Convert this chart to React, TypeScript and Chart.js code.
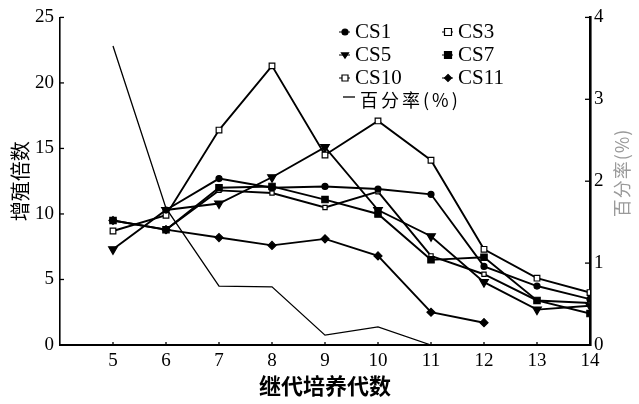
import React, { useEffect, useRef } from 'react';
import { Chart, registerables } from 'chart.js';

Chart.register(...registerables);

// ---- data ----
const generations = [5, 6, 7, 8, 9, 10, 11, 12, 13, 14];
const cs1 = [null, 10.3, 12.7, 12.0, 12.1, 11.9, 11.5, 6.0, 4.5, 3.5];
const cs3 = [8.7, 9.9, 16.4, 21.3, 14.5, 17.1, 14.1, 7.3, 5.1, 4.0];
const cs5 = [7.3, 10.3, 10.8, 12.8, 15.1, 10.3, 8.3, 4.8, 2.7, 3.0];
const cs7 = [9.5, 8.8, 12.0, 12.1, 11.1, 10.0, 6.5, 6.7, 3.4, 2.4];
const cs10 = [null, 8.8, 11.8, 11.6, 10.5, 11.7, 6.8, 5.4, 3.4, 3.2];
const cs11 = [9.5, 8.8, 8.2, 7.6, 8.1, 6.8, 2.5, 1.7, null, null];
const percent = [3.65, 1.67, 0.72, 0.71, 0.12, 0.22, 0, null, null, null];
const leftTicks = [0, 5, 10, 15, 20, 25];
const rightTicks = [0, 1, 2, 3, 4];
const xTitle = '继代培养代数';
const yTitle = '增殖倍数';
const y1Title = '百分率(%)';

const pts = (vals: (number | null)[]) =>
  generations.map((g, i) => ({ x: g, y: vals[i] })).filter((p) => p.y !== null);

type Mk = { label: string; style: string; r: number; fill: string; rot?: number };
const markers: Mk[] = [
  { label: 'CS1', style: 'circle', r: 3, fill: '#000' },
  { label: 'CS3', style: 'rect', r: 4, fill: '#fff' },
  { label: 'CS5', style: 'triangle', r: 5, fill: '#000', rot: 180 },
  { label: 'CS7', style: 'rect', r: 4.5, fill: '#000' },
  { label: 'CS10', style: 'rect', r: 3, fill: '#fff' },
  { label: 'CS11', style: 'rectRot', r: 4, fill: '#000' },
];
const seriesVals = [cs1, cs3, cs5, cs7, cs10, cs11];

function drawMark(ctx: CanvasRenderingContext2D, m: Mk, cx: number, cy: number) {
  ctx.save();
  ctx.fillStyle = m.fill;
  ctx.strokeStyle = '#000';
  ctx.lineWidth = 1.2;
  ctx.beginPath();
  const r = m.r;
  if (m.style === 'circle') {
    ctx.arc(cx, cy, r, 0, Math.PI * 2);
  } else if (m.style === 'rect') {
    ctx.rect(cx - r, cy - r, 2 * r, 2 * r);
  } else if (m.style === 'triangle') {
    ctx.moveTo(cx - r, cy - r * 0.6);
    ctx.lineTo(cx + r, cy - r * 0.6);
    ctx.lineTo(cx, cy + r * 0.9);
    ctx.closePath();
  } else if (m.style === 'rectRot') {
    ctx.moveTo(cx, cy - r);
    ctx.lineTo(cx + r, cy);
    ctx.lineTo(cx, cy + r);
    ctx.lineTo(cx - r, cy);
    ctx.closePath();
  }
  ctx.fill();
  ctx.stroke();
  ctx.restore();
}

const overlay = {
  id: 'overlay',
  afterDraw(chart: any) {
    const ctx: CanvasRenderingContext2D = chart.ctx;
    const { x, y, y1 } = chart.scales;
    const area = chart.chartArea;
    ctx.save();
    ctx.strokeStyle = '#000';
    ctx.lineWidth = 1.3;
    const seg = (a: number, b: number, c: number, d: number) => {
      ctx.beginPath();
      ctx.moveTo(a, b);
      ctx.lineTo(c, d);
      ctx.stroke();
    };
    // inward ticks
    leftTicks.forEach((v) => {
      const py = y.getPixelForValue(v);
      seg(area.left, py, area.left + 4, py);
    });
    rightTicks.forEach((v) => {
      const py = y1.getPixelForValue(v);
      seg(area.right - 5, py, area.right, py);
    });
    generations.forEach((g) => {
      const px = x.getPixelForValue(g);
      seg(px, area.bottom, px, area.bottom - 3);
    });

    // legend (2 columns)
    const colMark = [345, 448];
    const colText = [355, 458];
    const rowY = [31, 54, 77];
    ctx.font = '21px "Liberation Serif"';
    ctx.fillStyle = '#000';
    ctx.textBaseline = 'middle';
    ctx.textAlign = 'left';
    markers.forEach((m, i) => {
      const col = i % 2;
      const row = Math.floor(i / 2);
      const cx = colMark[col];
      const cy = rowY[row] + 1;
      ctx.lineWidth = 1;
      seg(cx - 6, cy, cx + 5, cy);
      drawMark(ctx, { ...m, r: Math.min(m.r, 3.5) }, cx, cy);
      ctx.fillStyle = '#000';
      ctx.fillText(m.label, colText[col], rowY[row] + 1);
    });
    // percent legend entry
    ctx.lineWidth = 1.3;
    seg(343, 97, 355, 97);
    ctx.font = '18px "Noto Sans CJK SC"';
    (ctx as any).letterSpacing = '3px';
    ctx.fillText(y1Title, 360, 100);

    // right axis title, rotated (reads bottom to top)
    ctx.save();
    ctx.translate(622, 173);
    ctx.rotate(-Math.PI / 2);
    ctx.textAlign = 'center';
    ctx.fillStyle = '#9a9a9a';
    (ctx as any).letterSpacing = '1px';
    ctx.font = '18px "Noto Sans CJK SC"';
    ctx.fillText(y1Title, 0, 0);
    ctx.restore();
    ctx.restore();
  },
};

export default function App() {
  const ref = useRef<HTMLCanvasElement | null>(null);
  useEffect(() => {
    if (!ref.current) return;
    Chart.defaults.font.family = '"Liberation Serif", serif';
    Chart.defaults.color = '#000';
    const datasets: any[] = markers.map((m, i) => ({
      label: m.label,
      data: pts(seriesVals[i]),
      borderColor: '#000',
      borderWidth: 1.9,
      pointStyle: m.style,
      pointRadius: m.r,
      pointRotation: m.rot || 0,
      pointBackgroundColor: m.fill,
      pointBorderColor: '#000',
      pointBorderWidth: 1.2,
      yAxisID: 'y',
      tension: 0,
      fill: false,
    }));
    datasets.push({
      label: y1Title,
      data: pts(percent),
      borderColor: '#000',
      borderWidth: 1.3,
      pointRadius: 0,
      yAxisID: 'y1',
      tension: 0,
      fill: false,
    });
    const chart = new Chart(ref.current, {
      type: 'line',
      data: { datasets },
      options: {
        animation: false,
        responsive: false,
        layout: { padding: { top: 13, left: 0, right: 0, bottom: 0 } },
        plugins: { legend: { display: false }, tooltip: { enabled: false } },
        scales: {
          x: {
            type: 'linear',
            min: 4,
            max: 14,
            afterFit: (s: any) => {
              s.height = 59;
            },
            grid: { display: false, drawTicks: false },
            border: { display: true, color: '#000', width: 2 },
            ticks: {
              stepSize: 1,
              padding: 5,
              font: { size: 19 },
              color: '#000',
              callback: (v: any) => (v === 4 ? '' : String(v)),
            },
            title: {
              display: true,
              text: xTitle,
              font: { size: 22, weight: 'bold', family: '"Noto Sans CJK SC"' },
              color: '#000',
              padding: { top: 0, bottom: 5 },
            },
          },
          y: {
            type: 'linear',
            position: 'left',
            min: 0,
            max: 25,
            afterFit: (s: any) => {
              s.width = 60;
            },
            grid: { display: false, drawTicks: false },
            border: { display: true, color: '#000', width: 1.6 },
            ticks: { stepSize: 5, padding: 6, font: { size: 19 }, color: '#000' },
            title: {
              display: true,
              text: yTitle,
              font: { size: 20, family: '"Noto Sans CJK SC"' },
              color: '#000',
              padding: { top: 8, bottom: 0 },
            },
          },
          y1: {
            type: 'linear',
            position: 'right',
            min: 0,
            max: 4,
            afterFit: (s: any) => {
              s.width = 49;
            },
            grid: { display: false, drawTicks: false },
            border: { display: true, color: '#000', width: 2.6 },
            ticks: { stepSize: 1, padding: 4, font: { size: 19 }, color: '#000' },
          },
        },
      } as any,
      plugins: [overlay],
    });
    return () => chart.destroy();
  }, []);
  return (
    <div style={{ position: 'fixed', left: 0, top: 0, width: 639, height: 404, background: '#fff' }}>
      <canvas ref={ref} width={639} height={404} />
    </div>
  );
}
